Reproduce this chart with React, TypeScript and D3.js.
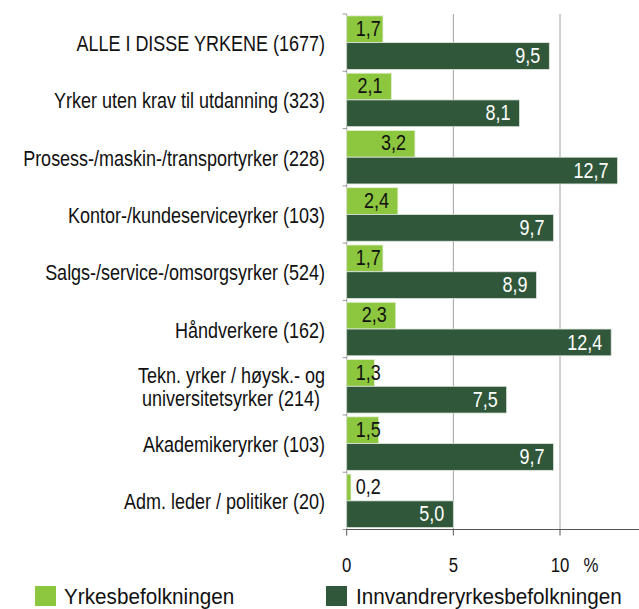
import React from "react";
import * as d3 from "d3";

const categories: string[][] = [
  ["ALLE I DISSE YRKENE (1677)"],
  ["Yrker uten krav til utdanning (323)"],
  ["Prosess-/maskin-/transportyrker (228)"],
  ["Kontor-/kundeserviceyrker (103)"],
  ["Salgs-/service-/omsorgsyrker (524)"],
  ["Håndverkere (162)"],
  ["Tekn. yrker / høysk.- og", "universitetsyrker (214) "],
  ["Akademikeryrker (103)"],
  ["Adm. leder / politiker (20)"],
];
const yrkesbefolkningen = [1.7, 2.1, 3.2, 2.4, 1.7, 2.3, 1.3, 1.5, 0.2];
const innvandrer = [9.5, 8.1, 12.7, 9.7, 8.9, 12.4, 7.5, 9.7, 5.0];
const xTicks = [0, 5, 10];
const seriesNames = ["Yrkesbefolkningen", "Innvandreryrkesbefolkningen"];

const LIGHT = "#8dc63f";
const DARK = "#30573a";
const FONT = "'Liberation Sans', Arial, Helvetica, sans-serif";
const FS = 22.5;
const SX = 0.8;

const fmt = (v: number) => v.toFixed(1).replace(".", ",");

export default function App() {
  const W = 639, H = 609;
  const x0 = 346.7, top = 14, bottom = 529.5;
  const x = d3.scaleLinear().domain([0, 10]).range([x0, 560]);
  const idx = categories.map((_, i) => String(i));
  const y = d3.scaleBand<string>().domain(idx).range([top, bottom]).paddingInner(0).paddingOuter(0);
  const inner = d3.scaleBand<string>().domain(["a", "b"]).range([0, y.bandwidth()]).paddingInner(0).paddingOuter(0.07);
  const bh = inner.bandwidth();

  const sText = (tx: number, ty: number, s: number = SX) => `translate(${tx},${ty}) scale(${s},1)`;

  return (
    <svg width={W} height={H} style={{ position: "absolute", left: 0, top: 0, background: "#fff" }}>
      {xTicks.filter((t) => t > 0).map((t) => (
        <line key={"g" + t} x1={x(t)} x2={x(t)} y1={top} y2={bottom} stroke="#a0a0a0" strokeWidth={1} />
      ))}
      <line x1={x0} x2={x0} y1={top} y2={bottom} stroke="#9a9a9a" strokeWidth={1} />
      {d3.range(categories.length + 1).map((i) => {
        const yy = top + i * y.step();
        return <line key={"yt" + i} x1={x0 - 4} x2={x0} y1={yy} y2={yy} stroke="#9a9a9a" strokeWidth={1} />;
      })}
      {categories.map((c, i) => {
        const by = y(String(i))!;
        const v1 = yrkesbefolkningen[i];
        const v2 = innvandrer[i];
        const y1 = by + inner("a")!;
        const y2 = by + inner("b")!;
        const end1 = x(v1);
        const end2 = x(v2);
        const lx1 = Math.max(end1 - 9, x0 + 9 + 25);
        return (
          <g key={"b" + i}>
            <rect x={x0} y={y1} width={end1 - x0} height={bh} fill={LIGHT} stroke="#e6efd8" strokeWidth={0.8} />
            <rect x={x0} y={y2} width={end2 - x0} height={bh} fill={DARK} stroke="#dfe6de" strokeWidth={0.8} />
            <text transform={sText(lx1, y1 + 20)} textAnchor="end" fontFamily={FONT} fontSize={FS} fill="#111">
              {fmt(v1)}
            </text>
            <text transform={sText(end2 - 9, y2 + 20.5)} textAnchor="end" fontFamily={FONT} fontSize={FS} fill="#fff">
              {fmt(v2)}
            </text>
          </g>
        );
      })}
      <line x1={x0} x2={W} y1={bottom} y2={bottom} stroke="#555" strokeWidth={1} />
      {xTicks.map((t) => (
        <g key={"xt" + t}>
          <line x1={x(t)} x2={x(t)} y1={bottom} y2={bottom + 6} stroke="#555" strokeWidth={1} />
          <text transform={sText(x(t), 572)} textAnchor="middle" fontFamily={FONT} fontSize={21} fill="#111">
            {t}
          </text>
        </g>
      ))}
      <text transform={sText(591, 572)} textAnchor="middle" fontFamily={FONT} fontSize={21} fill="#111">
        %
      </text>
      {categories.map((c, i) => {
        const cy = y(String(i))! + y.bandwidth() / 2;
        if (c.length === 1) {
          return (
            <text key={"c" + i} transform={sText(325, cy + 8.5)} textAnchor="end" fontFamily={FONT} fontSize={FS} fill="#111">
              {c[0]}
            </text>
          );
        }
        return (
          <g key={"c" + i}>
            {c.map((line, j) => (
              <text key={j} transform={sText(325, cy + 8.5 + (j - 0.5) * 23)} textAnchor="end" fontFamily={FONT} fontSize={FS} fill="#111" style={{ whiteSpace: "pre" }}>
                {line}
              </text>
            ))}
          </g>
        );
      })}
      <rect x={35} y={586} width={21} height={20} fill={LIGHT} />
      <text transform={sText(64, 603.5, 0.92)} fontFamily={FONT} fontSize={22.5} fill="#111">
        {seriesNames[0]}
      </text>
      <rect x={326} y={586} width={21} height={20} fill={DARK} />
      <text transform={sText(356, 603.5, 0.92)} fontFamily={FONT} fontSize={22.5} fill="#111">
        {seriesNames[1]}
      </text>
    </svg>
  );
}
